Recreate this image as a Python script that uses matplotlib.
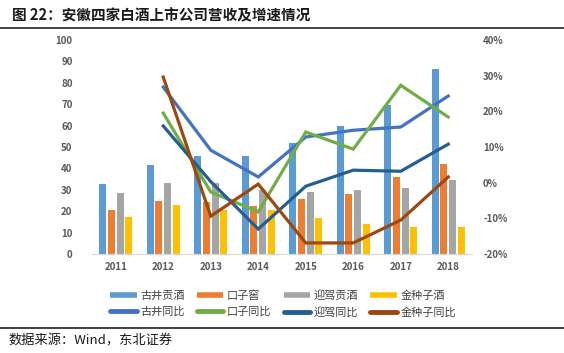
import numpy as np
import matplotlib.pyplot as plt
from matplotlib.lines import Line2D

plt.rcParams['font.family'] = ['Noto Sans CJK SC', 'DejaVu Sans']

# 数据
anni = ['2011', '2012', '2013', '2014', '2015', '2016', '2017', '2018']
gujing = [32.6, 41.5, 45.7, 46.0, 52.0, 60.0, 69.5, 86.3]
kouzi = [20.5, 24.7, 24.5, 22.4, 25.6, 28.0, 36.0, 42.0]
yingjia = [28.4, 33.0, 33.0, 30.0, 29.0, 30.0, 31.0, 34.5]
jinzhongzi = [17.3, 22.8, 20.5, 20.5, 17.0, 14.0, 12.6, 12.6]

anni_yoy = ['2012', '2013', '2014', '2015', '2016', '2017', '2018']
gujing_yoy = [26.8, 9.1, 1.6, 12.8, 14.7, 15.6, 24.3]
kouzi_yoy = [19.5, -2.6, -8.2, 14.2, 9.4, 27.3, 18.4]
yingjia_yoy = [15.9, 0.3, -13.0, -1.0, 3.5, 3.2, 10.8]
jinzhongzi_yoy = [29.6, -9.4, -0.4, -16.9, -16.9, -10.5, 1.6]

bar_nomi = ['古井贡酒', '口子窖', '迎驾贡酒', '金种子酒']
line_nomi = ['古井同比', '口子同比', '迎驾同比', '金种子同比']
bar_col = ['#5B9BD5', '#ED7D31', '#A5A5A5', '#FFC000']
line_col = ['#4472C4', '#70AD47', '#255E91', '#9E480E']

W, H = 564, 353
fig = plt.figure(figsize=(W / 100, H / 100), dpi=100)

# area del grafico in pixel
x0, x1, ytop, ybot = 92, 472, 40, 254
ax = fig.add_axes([x0 / W, 1 - ybot / H, (x1 - x0) / W, (ybot - ytop) / H])
ax2 = ax.twinx()

x = np.arange(len(anni))
step = 0.183
bw = 0.148
for i, (vals, col) in enumerate(zip([gujing, kouzi, yingjia, jinzhongzi], bar_col)):
    ax.bar(x + (i - 1.5) * step, vals, width=bw, color=col, zorder=2)

xl = np.array([anni.index(a) for a in anni_yoy])
for vals, col in zip([gujing_yoy, kouzi_yoy, yingjia_yoy, jinzhongzi_yoy], line_col):
    ax2.plot(xl, vals, color=col, lw=2.3, solid_joinstyle='miter', zorder=3)

ax.set_xlim(-0.5, len(anni) - 0.5)
ax.set_ylim(0, 100)
ax.set_yticks(range(0, 101, 10))
ax2.set_ylim(-20, 40)
ax2.set_yticks(range(-20, 41, 10))
ax2.set_yticklabels([f'{v}%' for v in range(-20, 41, 10)])
ax.set_xticks(x)
ax.set_xticklabels(anni)

for a in (ax, ax2):
    for s in a.spines.values():
        s.set_visible(False)
    a.tick_params(length=0, labelsize=7, labelcolor='#595959')
ax.spines['bottom'].set_visible(True)
ax.spines['bottom'].set_color('#D9D9D9')
ax.tick_params(axis='y', pad=14)
ax.tick_params(axis='x', pad=6)
ax2.tick_params(axis='y', pad=8)
for t in ax.get_xticklabels() + ax.get_yticklabels() + ax2.get_yticklabels():
    t.set_fontweight('bold')
ax2.set_zorder(ax.get_zorder() + 1)
ax2.patch.set_visible(False)

# legenda (ordine per colonna)
handles, labels = [], []
for i in range(4):
    handles.append(Line2D([], [], color=bar_col[i], lw=4, solid_capstyle='butt'))
    labels.append(bar_nomi[i])
    handles.append(Line2D([], [], color=line_col[i], lw=3.5, solid_capstyle='round'))
    labels.append(line_nomi[i])
fig.legend(handles, labels, ncol=4, loc='center', bbox_to_anchor=(283 / W, 1 - 304 / H),
           frameon=False, fontsize=8, handlelength=2.4, handletextpad=0.3,
           columnspacing=1.1, labelspacing=0.55, labelcolor='#404040')

# titolo, righe e fonte
fig.text(12 / W, 1 - 15 / H, '图 22：安徽四家白酒上市公司营收及增速情况', fontsize=10.5,
         fontweight='bold', va='center', ha='left', color='#1a1a1a')
fig.add_artist(Line2D([0, 1], [1 - 28 / H, 1 - 28 / H], color='#222222', lw=1.2))
fig.add_artist(Line2D([0, 1], [1 - 328 / H, 1 - 328 / H], color='#222222', lw=1.2))
fig.text(8 / W, 1 - 341 / H, '数据来源：Wind，东北证券', fontsize=9.5,
         va='center', ha='left', color='#1a1a1a')

fig.savefig('out.png', dpi=100)
